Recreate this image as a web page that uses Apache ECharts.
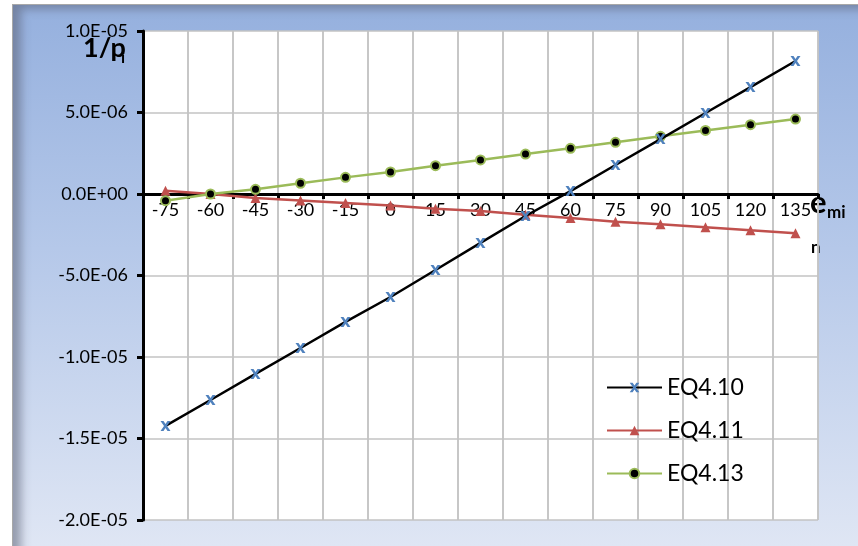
<!DOCTYPE html>
<html>
<head>
<meta charset="utf-8">
<script src="https://cdn.jsdelivr.net/npm/echarts@6/dist/echarts.min.js"></script>
<style>
html,body{margin:0;padding:0;background:#fff;overflow:hidden;}
#frame{position:absolute;left:12px;top:4px;width:846px;height:542px;box-sizing:border-box;
  border-left:1px solid #a8a8a8;border-top:1px solid #a8a8a8;
  background:linear-gradient(to bottom,#95b0de 0%,#b5c8e9 45%,#dfe6f4 100%);
  box-shadow:inset 12px 8px 10px -4px rgba(90,95,115,0.55);}
#c{position:absolute;left:0;top:0;width:858px;height:546px;}
</style>
</head>
<body>
<div id="frame"></div>
<div id="c"></div>
<script>
const categories = ['-75','-60','-45','-30','-15','0','15','30','45','60','75','90','105','120','135'];
const eq410 = [-1.423e-5,-1.264e-5,-1.104e-5,-9.45e-6,-7.85e-6,-6.32e-6,-4.66e-6,-3.0e-6,-1.35e-6,1.8e-7,1.78e-6,3.37e-6,4.97e-6,6.56e-6,8.16e-6];
const eq411 = [2.0e-7,0,-2.5e-7,-4.0e-7,-5.5e-7,-7.0e-7,-9.0e-7,-1.05e-6,-1.28e-6,-1.47e-6,-1.70e-6,-1.86e-6,-2.04e-6,-2.23e-6,-2.41e-6];
const eq413 = [-4.1e-7,0,2.9e-7,6.6e-7,1.02e-6,1.35e-6,1.74e-6,2.09e-6,2.45e-6,2.8e-6,3.17e-6,3.54e-6,3.9e-6,4.25e-6,4.6e-6];
const seriesNames = ['EQ4.10','EQ4.11','EQ4.13'];
const yTicks = {min:-2e-5, max:1e-5, interval:5e-6};

const FONT = 'Lato, "Open Sans", sans-serif';
function fmtY(v){
  if (Math.abs(v) < 1e-12) return '0.0E+00';
  const s = v.toExponential(1);
  const parts = s.split('e');
  let e = parseInt(parts[1],10);
  const sign = e < 0 ? '-' : '+';
  e = Math.abs(e);
  return parts[0] + 'E' + sign + (e < 10 ? '0' + e : '' + e);
}
const grey = '#c3c3c3';
const gridTop = 31, gridBottom = 26, gridH = 546 - gridTop - gridBottom;
const zeroOffset = -gridH * (0 - yTicks.min) / (yTicks.max - yTicks.min);
const chart = echarts.init(document.getElementById('c'));
chart.setOption({
  animation:false,
  backgroundColor:'transparent',
  graphic:[
    {type:'text', left:83, top:35, style:{text:'1/p', fontFamily:FONT, fontSize:27, fontWeight:'bold', fill:'#000'}},
    {type:'text', left:121, top:50, style:{text:'i', fontFamily:FONT, fontSize:16, fontWeight:'bold', fill:'#000'}},
    {type:'text', left:810, top:187, style:{text:'e', fontFamily:FONT, fontSize:31, fontWeight:'bold', fill:'#000'}},
    {type:'text', left:827, top:204, style:{text:'mi', fontFamily:FONT, fontSize:17, fontWeight:'bold', fill:'#000'}},
    {type:'text', left:811, top:239, style:{text:'n', fontFamily:FONT, fontSize:17, fontWeight:'bold', fill:'#000'}}
  ],
  grid:{left:143, right:40, top:gridTop, bottom:gridBottom, show:true, backgroundColor:'#ffffff', borderWidth:0},
  legend:{
    data:seriesNames, orient:'vertical', left:601, top:371,
    itemWidth:55, itemHeight:12, itemGap:20,
    textStyle:{fontFamily:FONT, fontSize:23, color:'#000'}
  },
  xAxis:[{
    type:'category', data:categories, boundaryGap:true, position:'bottom', offset:zeroOffset,
    axisLine:{onZero:false, lineStyle:{color:'#000', width:3}},
    axisTick:{show:true, length:5, lineStyle:{color:'#000', width:3}},
    axisLabel:{color:'#000', fontFamily:FONT, fontSize:18, margin:7},
    splitLine:{show:true, lineStyle:{color:grey, width:1.5}}
  },{
    type:'value', min:-82.5, max:142.5, interval:15, position:'top',
    axisLine:{show:false}, axisTick:{show:false}, axisLabel:{show:false},
    splitLine:{show:true, lineStyle:{color:grey, width:1.5}}
  }],
  yAxis:{
    type:'value', min:yTicks.min, max:yTicks.max, interval:yTicks.interval,
    axisLine:{show:true, onZero:false, lineStyle:{color:'#000', width:3}},
    axisTick:{show:true, length:6, lineStyle:{color:'#000', width:3}},
    axisLabel:{color:'#000', fontSize:18, fontFamily:FONT, margin:15, formatter:fmtY},
    splitLine:{show:true, lineStyle:{color:grey, width:1.5}}
  },
  series:[
    {name:seriesNames[0], type:'line', data:eq410,
     symbol:'path://M0,0 L3,0 L5,3 L7,0 L10,0 L6.5,5 L10,10 L7,10 L5,7 L3,10 L0,10 L3.5,5 Z', symbolSize:10,
     lineStyle:{color:'#000', width:2.5}, itemStyle:{color:'#4f81bd'}, z:4},
    {name:seriesNames[1], type:'line', data:eq411,
     symbol:'triangle', symbolSize:10,
     lineStyle:{color:'#c0504d', width:2.5}, itemStyle:{color:'#c0504d'}, z:3},
    {name:seriesNames[2], type:'line', data:eq413,
     symbol:'circle', symbolSize:9,
     lineStyle:{color:'#9bbb59', width:2.5}, itemStyle:{color:'#000', borderColor:'#9bbb59', borderWidth:2}, z:3}
  ]
});
</script>
</body>
</html>
